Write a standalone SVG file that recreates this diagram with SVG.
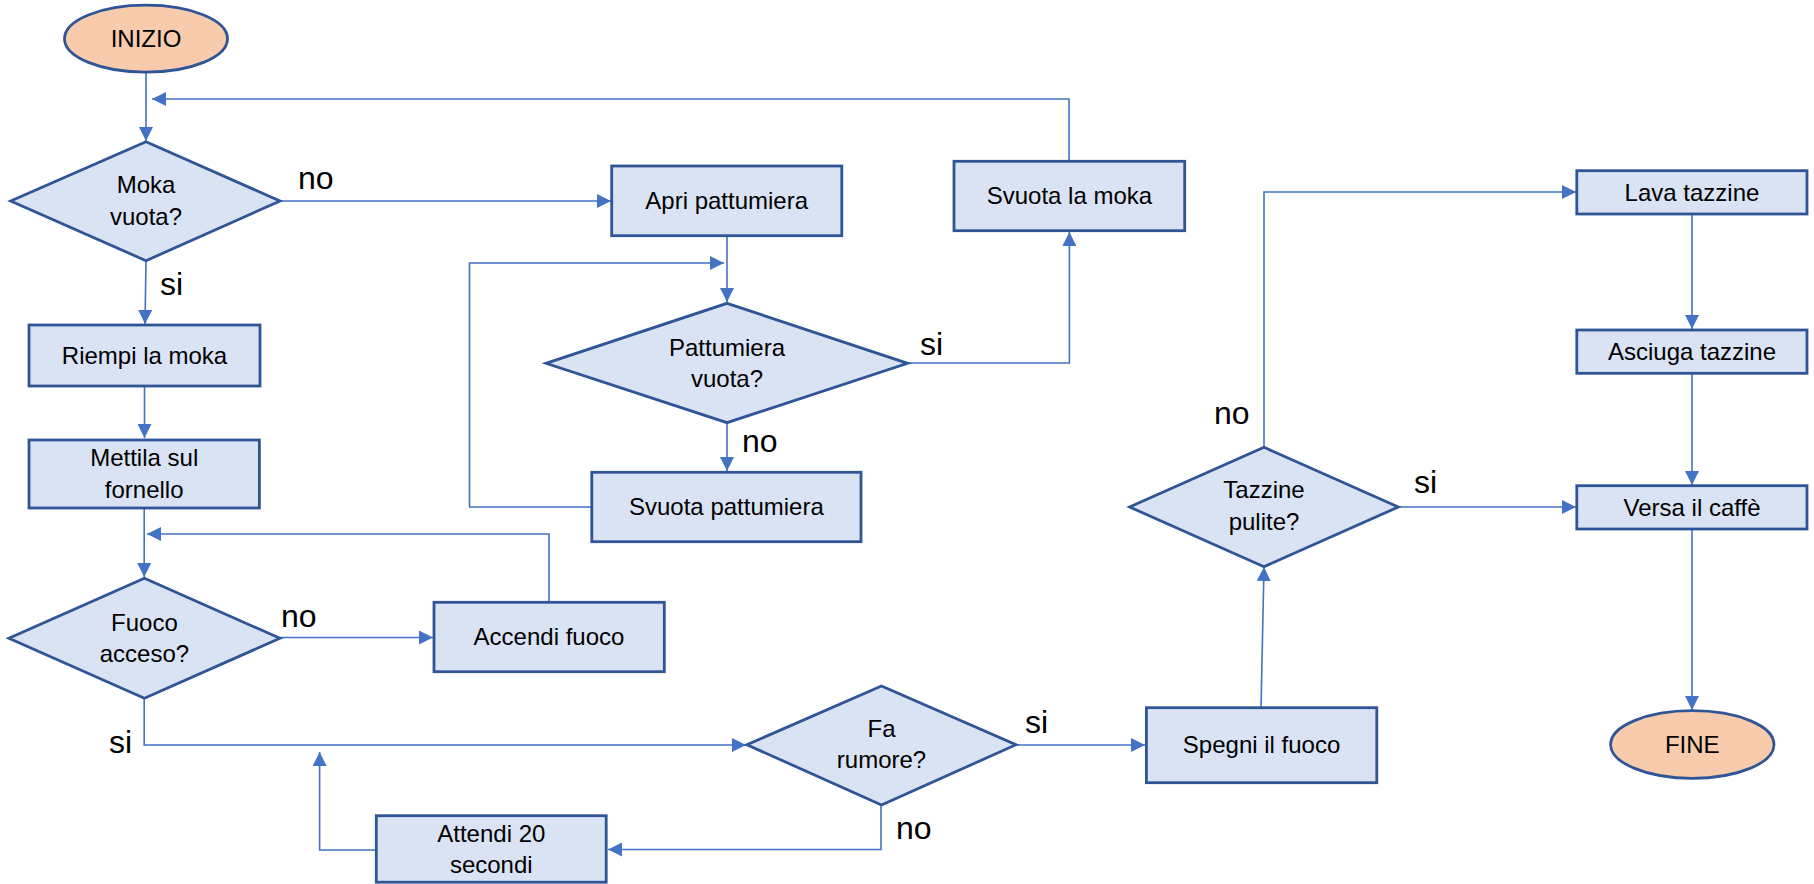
<svg xmlns="http://www.w3.org/2000/svg" width="1814" height="884" viewBox="0 0 1814 884">
<style>
.box{fill:#DAE3F3;stroke:#2F5597;stroke-width:2.8}
.term{fill:#F8CBAD;stroke:#2F5597;stroke-width:2.8}
.t{font-family:"Liberation Sans",Arial,sans-serif;font-size:24px;fill:#000;text-anchor:middle}
.lbl{font-family:"Liberation Sans",Arial,sans-serif;font-size:32px;fill:#000}
.c{fill:none;stroke:#4472C4;stroke-width:1.6}
.a{marker-end:url(#ah)}
</style>
<defs>
<marker id="ah" markerUnits="userSpaceOnUse" markerWidth="15" markerHeight="14" refX="14" refY="7" orient="auto">
<path d="M0,0 L14,7 L0,14 z" fill="#4472C4"/>
</marker>
</defs>
<rect width="1814" height="884" fill="#fff"/>
<g id="connectors">
<path class="c a" d="M146,72 L146,141"/>
<path class="c a" d="M1069,161 L1069,99 L152,99"/>
<path class="c a" d="M280,201 L611,201"/>
<path class="c a" d="M146,261 L145,324"/>
<path class="c a" d="M144.5,386 L144.5,438"/>
<path class="c a" d="M727,236 L727,302"/>
<path class="c a" d="M592,507 L469.5,507 L469.5,263 L724,263"/>
<path class="c a" d="M907.6,363 L1069.4,363 L1069.4,232"/>
<path class="c a" d="M727,423 L727,471"/>
<path class="c a" d="M144.2,508 L144.2,577"/>
<path class="c a" d="M549,602 L549,534 L147,534"/>
<path class="c a" d="M280,637.5 L433,637.5"/>
<path class="c a" d="M144.2,698 L144.2,745 L746,745"/>
<path class="c a" d="M376,850 L319.6,850 L319.6,752"/>
<path class="c a" d="M881,805 L881,849.5 L608,849.5"/>
<path class="c a" d="M1016,745 L1145,745"/>
<path class="c a" d="M1261,708 L1264,567"/>
<path class="c a" d="M1264,447 L1264,192 L1576,192"/>
<path class="c a" d="M1398,507 L1576,507"/>
<path class="c a" d="M1692,214 L1692,329"/>
<path class="c a" d="M1692,373 L1692,485"/>
<path class="c a" d="M1692,529 L1692,710"/>
</g>
<g id="inizio"><ellipse class="term" cx="146" cy="38.7" rx="81.5" ry="33.5"/><text class="t" x="146" y="47">INIZIO</text></g>
<g id="moka-vuota"><polygon class="box" points="146,141.7 280,201 146,260.7 10.7,201"/><text class="t" x="146" y="193">Moka</text><text class="t" x="146" y="225">vuota?</text></g>
<g id="riempi"><rect class="box" x="29" y="325" width="231" height="61"/><text class="t" x="144.5" y="364">Riempi la moka</text></g>
<g id="mettila"><rect class="box" x="29" y="440" width="230.4" height="68"/><text class="t" x="144.2" y="466">Mettila sul</text><text class="t" x="144.2" y="498">fornello</text></g>
<g id="fuoco-acceso"><polygon class="box" points="144.4,578.3 279.9,638.3 144.4,698.3 8.9,638.3"/><text class="t" x="144.4" y="631">Fuoco</text><text class="t" x="144.4" y="662">acceso?</text></g>
<g id="accendi"><rect class="box" x="434" y="602.3" width="230.3" height="69.4"/><text class="t" x="549" y="645">Accendi fuoco</text></g>
<g id="apri"><rect class="box" x="611.7" y="166" width="230.1" height="69.7"/><text class="t" x="726.7" y="209">Apri pattumiera</text></g>
<g id="pattumiera-vuota"><polygon class="box" points="727,303.3 907.6,363.3 727,422.7 546,363.3"/><text class="t" x="727" y="356">Pattumiera</text><text class="t" x="727" y="387">vuota?</text></g>
<g id="svuota-pattumiera"><rect class="box" x="591.8" y="472.3" width="269.2" height="69.4"/><text class="t" x="726.4" y="515">Svuota pattumiera</text></g>
<g id="svuota-moka"><rect class="box" x="954" y="161.3" width="230.7" height="69.4"/><text class="t" x="1069.4" y="204">Svuota la moka</text></g>
<g id="fa-rumore"><polygon class="box" points="881.5,686 1016,744.7 881.5,805 746.9,744.7"/><text class="t" x="881.5" y="737">Fa</text><text class="t" x="881.5" y="768">rumore?</text></g>
<g id="attendi"><rect class="box" x="376.3" y="815.7" width="229.9" height="66.5"/><text class="t" x="491.3" y="842">Attendi 20</text><text class="t" x="491.3" y="873">secondi</text></g>
<g id="spegni"><rect class="box" x="1146.4" y="707.7" width="230.4" height="75"/><text class="t" x="1261.6" y="753">Spegni il fuoco</text></g>
<g id="tazzine-pulite"><polygon class="box" points="1264,447.3 1398.3,507 1264,566.7 1129.6,507"/><text class="t" x="1264" y="498">Tazzine</text><text class="t" x="1264" y="530">pulite?</text></g>
<g id="lava"><rect class="box" x="1576.8" y="170.7" width="230.2" height="43.3"/><text class="t" x="1692" y="200.5">Lava tazzine</text></g>
<g id="asciuga"><rect class="box" x="1576.8" y="330" width="230.2" height="43.3"/><text class="t" x="1692" y="360">Asciuga tazzine</text></g>
<g id="versa"><rect class="box" x="1576.8" y="485.7" width="230.2" height="43.3"/><text class="t" x="1692" y="515.5">Versa il caffè</text></g>
<g id="fine"><ellipse class="term" cx="1692.3" cy="744.5" rx="81.7" ry="33.8"/><text class="t" x="1692.3" y="753">FINE</text></g>
<g id="labels">
<text class="lbl" x="298" y="189">no</text>
<text class="lbl" x="160" y="295">si</text>
<text class="lbl" x="920" y="355">si</text>
<text class="lbl" x="742" y="452">no</text>
<text class="lbl" x="281" y="627">no</text>
<text class="lbl" x="109" y="753">si</text>
<text class="lbl" x="1025" y="733">si</text>
<text class="lbl" x="896" y="839">no</text>
<text class="lbl" x="1214" y="424">no</text>
<text class="lbl" x="1414" y="493">si</text>
</g>
</svg>
